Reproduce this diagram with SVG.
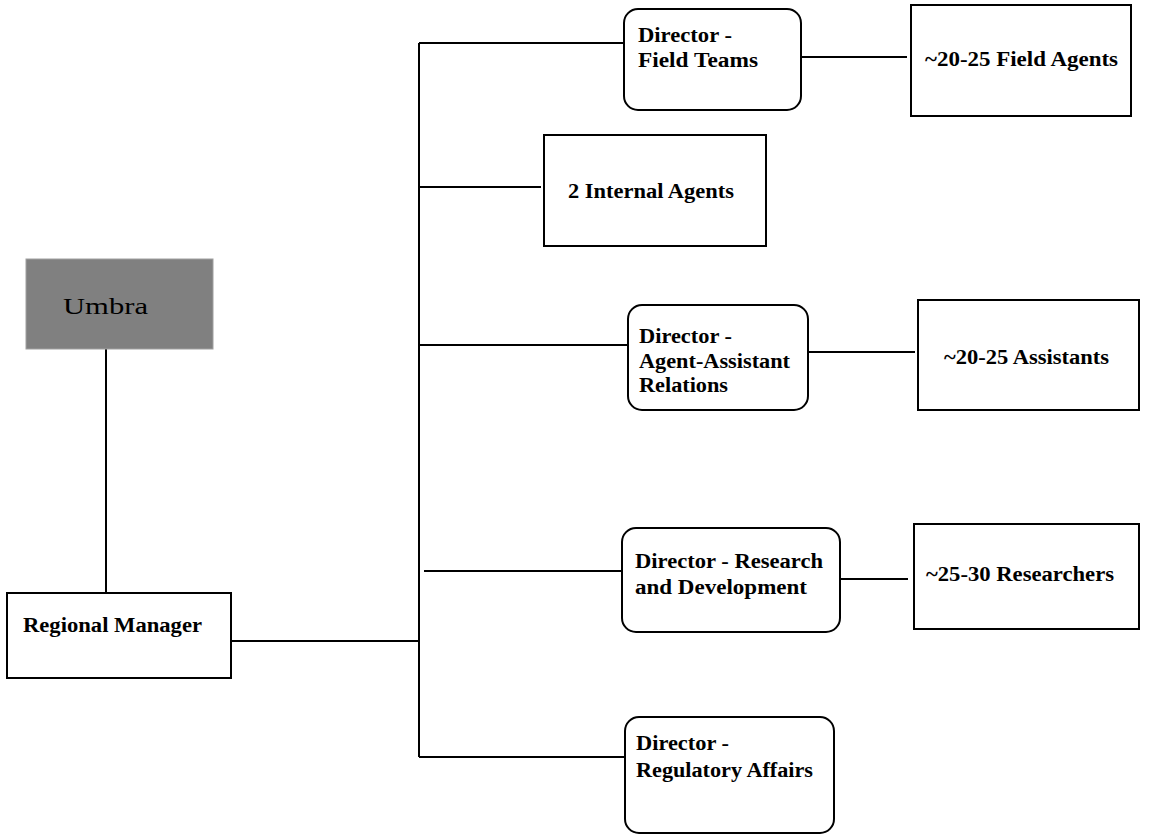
<svg xmlns="http://www.w3.org/2000/svg" width="1159" height="835" viewBox="0 0 1159 835">
<style>
.box{fill:#fff;stroke:#000;stroke-width:2}
.lbl{font-family:"Liberation Serif","Times New Roman",serif;font-weight:bold;font-size:20px;fill:#000}
.conn line{stroke:#000;stroke-width:2}
</style>
<rect width="1159" height="835" fill="#fff"/>
<g class="conn" id="connectors">
<line x1="106" y1="349" x2="106" y2="593"/>
<line x1="231" y1="641" x2="420" y2="641"/>
<line x1="419" y1="43" x2="419" y2="757"/>
<line x1="419" y1="43" x2="624" y2="43"/>
<line x1="419" y1="187" x2="541" y2="187"/>
<line x1="419" y1="345" x2="627" y2="345"/>
<line x1="424" y1="571" x2="622" y2="571"/>
<line x1="419" y1="757" x2="625" y2="757"/>
<line x1="801" y1="57" x2="907" y2="57"/>
<line x1="809" y1="352" x2="915" y2="352"/>
<line x1="840" y1="579" x2="908" y2="579"/>
</g>
<g id="umbra">
<rect x="26" y="259" width="187" height="90" fill="#808080" stroke="#a0a0a0" stroke-width="1"/>
<text x="63" y="314" font-family="Liberation Serif,Times New Roman,serif" font-size="24" textLength="85" lengthAdjust="spacingAndGlyphs">Umbra</text>
</g>
<g id="regional-manager">
<rect class="box" x="7" y="593" width="224" height="85"/>
<text class="lbl" x="23" y="632" textLength="179" lengthAdjust="spacingAndGlyphs">Regional Manager</text>
</g>
<g id="dir-field-teams">
<rect class="box" x="624" y="9" width="177" height="101" rx="14"/>
<text class="lbl" x="638" y="42" textLength="94" lengthAdjust="spacingAndGlyphs">Director -</text>
<text class="lbl" x="638" y="67" textLength="120" lengthAdjust="spacingAndGlyphs">Field Teams</text>
</g>
<g id="field-agents">
<rect class="box" x="911" y="5" width="220" height="111"/>
<text class="lbl" x="925" y="66" textLength="193" lengthAdjust="spacingAndGlyphs">~20-25 Field Agents</text>
</g>
<g id="internal-agents">
<rect class="box" x="544" y="135" width="222" height="111"/>
<text class="lbl" x="568" y="198" textLength="166" lengthAdjust="spacingAndGlyphs">2 Internal Agents</text>
</g>
<g id="dir-agent-assistant">
<rect class="box" x="628" y="305" width="180" height="105" rx="14"/>
<text class="lbl" x="639" y="343" textLength="93" lengthAdjust="spacingAndGlyphs">Director -</text>
<text class="lbl" x="639" y="368" textLength="151" lengthAdjust="spacingAndGlyphs">Agent-Assistant</text>
<text class="lbl" x="639" y="392" textLength="89" lengthAdjust="spacingAndGlyphs">Relations</text>
</g>
<g id="assistants">
<rect class="box" x="918" y="300" width="221" height="110"/>
<text class="lbl" x="944" y="364" textLength="165" lengthAdjust="spacingAndGlyphs">~20-25 Assistants</text>
</g>
<g id="dir-research">
<rect class="box" x="622" y="528" width="218" height="104" rx="14"/>
<text class="lbl" x="635" y="568" textLength="188" lengthAdjust="spacingAndGlyphs">Director - Research</text>
<text class="lbl" x="635" y="594" textLength="172" lengthAdjust="spacingAndGlyphs">and Development</text>
</g>
<g id="researchers">
<rect class="box" x="914" y="524" width="225" height="105"/>
<text class="lbl" x="926" y="581" textLength="188" lengthAdjust="spacingAndGlyphs">~25-30 Researchers</text>
</g>
<g id="dir-regulatory">
<rect class="box" x="625" y="717" width="209" height="116" rx="14"/>
<text class="lbl" x="636" y="750" textLength="93" lengthAdjust="spacingAndGlyphs">Director -</text>
<text class="lbl" x="636" y="777" textLength="177" lengthAdjust="spacingAndGlyphs">Regulatory Affairs</text>
</g>
</svg>
